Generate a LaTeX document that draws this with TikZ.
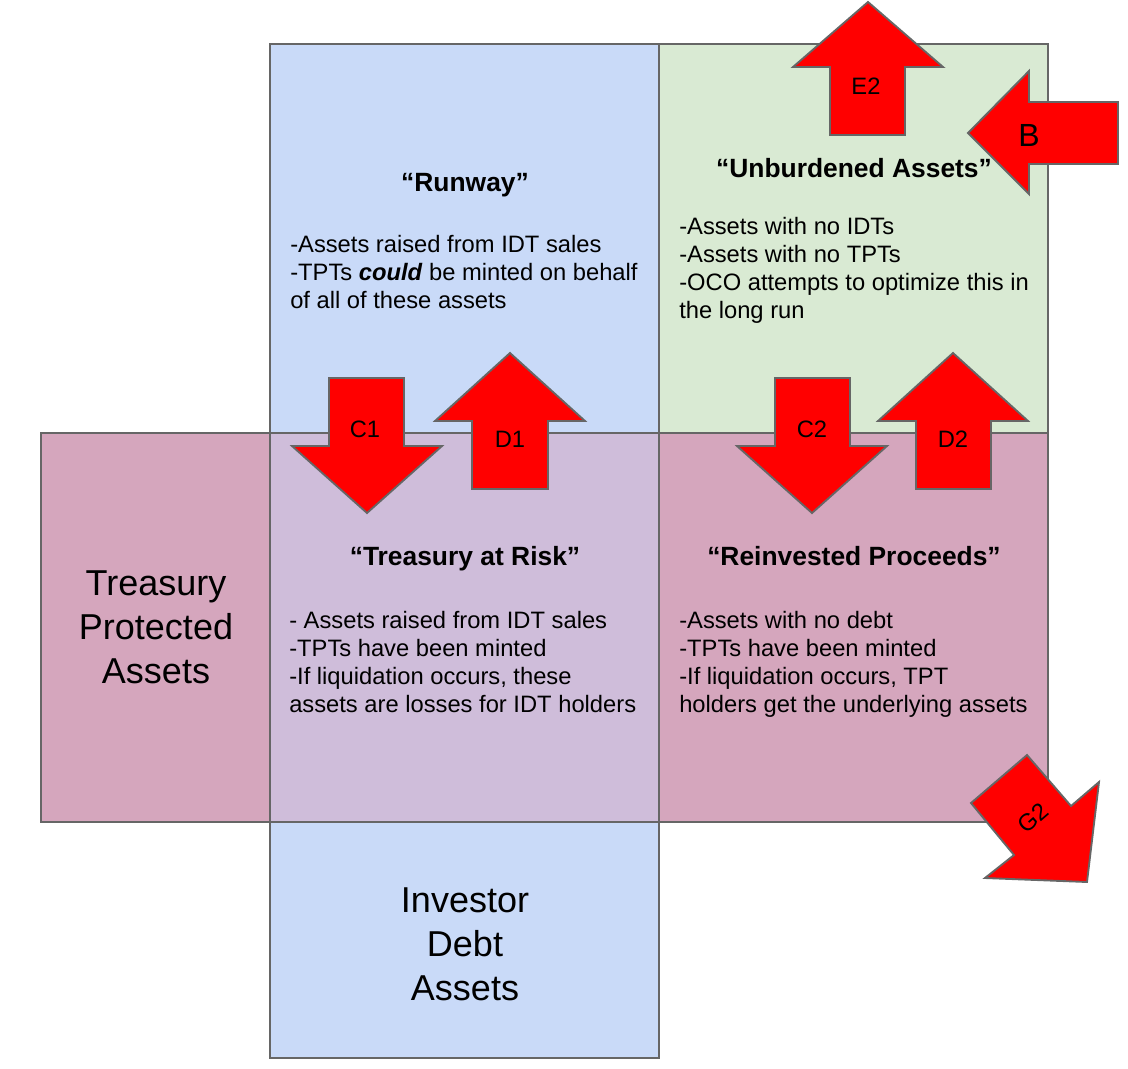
\documentclass[tikz,border=0pt]{standalone}
\usepackage{fontspec}
\setmainfont{Liberation Sans}

\definecolor{runwayblue}{HTML}{C9DAF8}
\definecolor{freegreen}{HTML}{D9EAD3}
\definecolor{treasurypink}{HTML}{D5A6BD}
\definecolor{riskpurple}{HTML}{CFBDDA}
\definecolor{edgegray}{HTML}{666666}
\definecolor{flowred}{HTML}{FF0000}

\begin{document}
\begin{tikzpicture}[
    x=0.75pt, y=-0.75pt,
    quad/.style={draw=edgegray, line width=1.4pt},
    flowarrow/.style={draw=edgegray, fill=flowred, line width=1.4pt, line join=miter},
    qbody/.style={font=\fontsize{17.8}{21}\selectfont, align=left, anchor=north west, inner sep=0pt},
    qtitle/.style={font=\fontsize{19.8}{23}\selectfont\bfseries, anchor=base, inner sep=0pt},
    qbig/.style={font=\fontsize{27}{33}\selectfont, align=center, anchor=north, inner sep=0pt},
    flowtag/.style={font=\fontsize{17.8}{21}\selectfont, inner sep=0pt}
]
\useasboundingbox (0,0) rectangle (1128,1068);

% quadrants
\draw[quad, fill=runwayblue] (270,44) rectangle (659,433);
\draw[quad, fill=freegreen] (659,44) rectangle (1048,433);
\draw[quad, fill=treasurypink] (41,433) rectangle (270,822);
\draw[quad, fill=riskpurple] (270,433) rectangle (659,822);
\draw[quad, fill=treasurypink] (659,433) rectangle (1048,822);
\draw[quad, fill=runwayblue] (270,822) rectangle (659,1058);

% texts
\node[qtitle] (runway) at (465,191) {“Runway”};
\node[qbody] (runwaytxt) at (290,235) {-Assets raised from IDT sales\\-TPTs \textbf{\textit{could}} be minted on behalf\\of all of these assets};
\node[qtitle] (unburdened) at (854,177) {“Unburdened Assets”};
\node[qbody] (unburdenedtxt) at (679,217) {-Assets with no IDTs\\-Assets with no TPTs\\-OCO attempts to optimize this in\\the long run};
\node[qtitle] (atrisk) at (465,565) {“Treasury at Risk”};
\node[qbody] (atrisktxt) at (289,611) {- Assets raised from IDT sales\\-TPTs have been minted\\-If liquidation occurs, these\\assets are losses for IDT holders};
\node[qtitle] (reinvested) at (854,565) {“Reinvested Proceeds”};
\node[qbody] (reinvestedtxt) at (679,611) {-Assets with no debt\\-TPTs have been minted\\-If liquidation occurs, TPT\\holders get the underlying assets};
\node[qbig] (protected) at (156,570) {Treasury\\Protected\\Assets};
\node[qbig] (investor) at (465,887) {Investor\\Debt\\Assets};

% block arrows
\draw[flowarrow] (830,135) -- (830,67) -- (793,67) -- (868,2) -- (943,67) -- (905,67) -- (905,135) -- cycle;
\node[flowtag] (e2) at (866,86) {E2};
\draw[flowarrow] (1118,102) -- (1029,102) -- (1029,71) -- (968,133) -- (1029,194) -- (1029,164) -- (1118,164) -- cycle;
\node[flowtag, font=\fontsize{24}{28}\selectfont] (b) at (1029,135) {B};
\draw[flowarrow] (329,378) -- (404,378) -- (404,446) -- (442,446) -- (367,513) -- (292,446) -- (329,446) -- cycle;
\node[flowtag] (c1) at (365,429) {C1};
\draw[flowarrow] (472,489) -- (472,421) -- (435,421) -- (510,353) -- (585,421) -- (548,421) -- (548,489) -- cycle;
\node[flowtag] (d1) at (510,439) {D1};
\draw[flowarrow] (775,378) -- (850,378) -- (850,446) -- (887,446) -- (812,513) -- (737,446) -- (775,446) -- cycle;
\node[flowtag] (c2) at (812,429) {C2};
\draw[flowarrow] (916,489) -- (916,421) -- (878,421) -- (953,353) -- (1028,421) -- (991,421) -- (991,489) -- cycle;
\node[flowtag] (d2) at (953,439) {D2};
\draw[flowarrow] (1027,755) -- (971,803) -- (1014,855) -- (985,878) -- (1087,882) -- (1099,782) -- (1071,806) -- cycle;
\node[flowtag, rotate=41] (g2) at (1033,818) {G2};
\end{tikzpicture}
\end{document}
